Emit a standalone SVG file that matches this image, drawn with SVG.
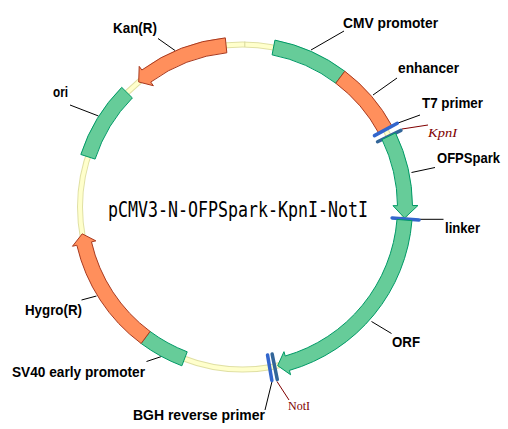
<svg xmlns="http://www.w3.org/2000/svg" width="508" height="429" viewBox="0 0 508 429">
<style>
.g{fill:#66CC99;stroke:#009966;stroke-width:1}
.o{fill:#FF8F5C;stroke:#A83A20;stroke-width:1}
.lb{font-family:"Liberation Sans",Arial,sans-serif;font-weight:bold;font-size:14px;fill:#000}
.rs{font-family:"Liberation Serif","Times New Roman",serif;font-size:13.5px;fill:#800000}
.ld{stroke:#000;stroke-width:1;fill:none}
.lr{stroke:#800000;stroke-width:1;fill:none}
.b1{stroke:#3366CC;stroke-width:3.5;stroke-linecap:round}
.b2{stroke:#336699;stroke-width:3.5;stroke-linecap:round}
</style>
<rect width="508" height="429" fill="#fff"/>
<g id="backbone">
<circle cx="242.5" cy="207" r="162.5" fill="none" stroke="#E0E0A4" stroke-width="6"/>
<circle cx="242.5" cy="207" r="162.5" fill="none" stroke="#FFFFCC" stroke-width="4"/>
<line x1="244.8" y1="47" x2="244.8" y2="41.5" stroke="#D8D89C" stroke-width="1"/>
</g>
<text id="title" x="108" y="217" font-family="DejaVu Sans Mono,monospace" font-size="20.5" textLength="260" lengthAdjust="spacingAndGlyphs">pCMV3-N-OFPSpark-KpnI-NotI</text>
<g id="connectors">
<line class="ld" x1="311" y1="50" x2="344" y2="31"/>
<line class="ld" x1="373" y1="95" x2="397" y2="78"/>
<line class="ld" x1="398" y1="123" x2="420" y2="115"/>
<line class="lr" x1="402" y1="129" x2="428" y2="125"/>
<line class="ld" x1="411.5" y1="172.5" x2="435" y2="167.5"/>
<line class="ld" x1="420" y1="219.3" x2="443.5" y2="219.3"/>
<line class="ld" x1="371.5" y1="321.5" x2="391.5" y2="333.5"/>
<line class="lr" x1="277" y1="381.5" x2="289" y2="400"/>
<line class="ld" x1="272" y1="381.5" x2="265" y2="410"/>
<line class="ld" x1="146.5" y1="361.5" x2="161.5" y2="356.5"/>
<line class="ld" x1="81.5" y1="300" x2="96.5" y2="296"/>
<line class="ld" x1="70" y1="105" x2="98.5" y2="116"/>
<line class="ld" x1="158" y1="38.5" x2="175" y2="50.5"/>
</g>
<g id="cmv">
<path class="g" d="M274.94,40.12 A170,170 0 0 1 344.81,71.23 L335.78,83.21 A155,155 0 0 0 272.08,54.85 Z"/>
<text class="lb" x="343" y="28" textLength="95" lengthAdjust="spacingAndGlyphs">CMV promoter</text>
</g>
<g id="enhancer">
<path class="o" d="M344.81,71.23 A170,170 0 0 1 392.04,126.14 L378.85,133.28 A155,155 0 0 0 335.78,83.21 Z"/>
<text class="lb" x="398" y="73" textLength="61" lengthAdjust="spacingAndGlyphs">enhancer</text>
</g>
<g id="t7">
<line class="b1" x1="374.45" y1="135.66" x2="397.32" y2="123.29"/>
<text class="lb" x="422" y="108" textLength="61" lengthAdjust="spacingAndGlyphs">T7 primer</text>
</g>
<g id="kpni">
<line class="b2" x1="377.55" y1="141.72" x2="400.96" y2="130.40"/>
<text class="rs" x="428" y="137" font-style="italic" textLength="29" lengthAdjust="spacingAndGlyphs">KpnI</text>
</g>
<g id="ofpspark">
<path class="g" d="M395.55,133.01 A170,170 0 0 1 412.49,205.52 L417.99,205.47 L404.62,218.05 L392.99,205.69 L397.49,205.65 A155,155 0 0 0 382.05,139.54 Z"/>
<text class="lb" x="437" y="163" textLength="63" lengthAdjust="spacingAndGlyphs">OFPSpark</text>
</g>
<g id="linker">
<line class="b1" x1="392.1" y1="217.99" x2="419.02" y2="219.96"/>
<text class="lb" x="445" y="233" textLength="35" lengthAdjust="spacingAndGlyphs">linker</text>
</g>
<g id="orf">
<path class="g" d="M411.95,220.63 A170,170 0 0 1 289.36,370.41 L290.6,374.74 L277.67,365.65 L283.98,351.67 L285.22,356.0 A155,155 0 0 0 397.0,219.43 Z"/>
<text class="lb" x="392" y="347" textLength="28" lengthAdjust="spacingAndGlyphs">ORF</text>
</g>
<g id="noti">
<line class="b2" x1="272.15" y1="354.04" x2="277.29" y2="379.53"/>
<text class="rs" x="288" y="410" textLength="22" lengthAdjust="spacingAndGlyphs">NotI</text>
</g>
<g id="bgh">
<line class="b1" x1="267.52" y1="354.9" x2="271.85" y2="380.54"/>
<text class="lb" x="133" y="420" textLength="132" lengthAdjust="spacingAndGlyphs">BGH reverse primer</text>
</g>
<g id="sv40">
<path class="g" d="M181.85,365.81 A170,170 0 0 1 141.14,343.48 L150.09,331.44 A155,155 0 0 0 187.21,351.8 Z"/>
<text class="lb" x="12" y="377" textLength="133" lengthAdjust="spacingAndGlyphs">SV40 early promoter</text>
</g>
<g id="hygro">
<path class="o" d="M141.14,343.48 A170,170 0 0 1 76.86,245.24 L72.47,246.25 L82.23,233.82 L95.86,240.86 L91.47,241.87 A155,155 0 0 0 150.09,331.44 Z"/>
<text class="lb" x="25" y="315" textLength="57" lengthAdjust="spacingAndGlyphs">Hygro(R)</text>
</g>
<g id="ori">
<path class="g" d="M80.82,154.47 A170,170 0 0 1 121.73,87.36 L132.39,97.91 A155,155 0 0 0 95.09,159.1 Z"/>
<text class="lb" x="53" y="97" textLength="15" lengthAdjust="spacingAndGlyphs">ori</text>
</g>
<g id="kan">
<path class="o" d="M225.32,37.87 A170,170 0 0 0 141.86,69.99 L139.19,66.37 L138.7,81.97 L153.4,85.71 L150.74,82.08 A155,155 0 0 1 226.84,52.79 Z"/>
<text class="lb" x="113" y="33" textLength="44" lengthAdjust="spacingAndGlyphs">Kan(R)</text>
</g>
</svg>
